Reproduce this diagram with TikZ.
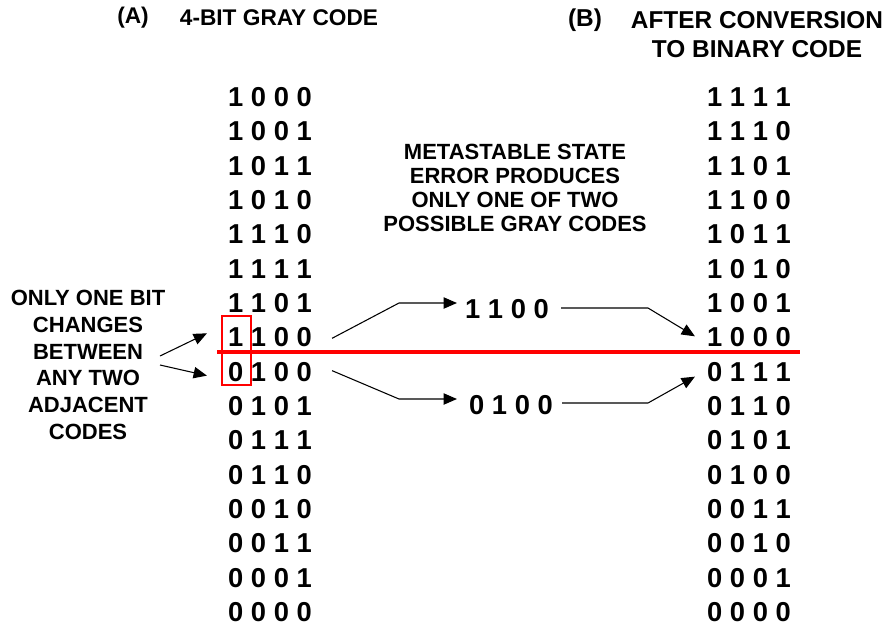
\documentclass[tikz,border=0pt]{standalone}
\usepackage{fontspec}
\setmainfont{Liberation Sans}
\usetikzlibrary{arrows.meta,calc}

\tikzset{
  code/.style={font=\fontsize{20.5}{24}\selectfont\bfseries, inner sep=0pt},
  note/.style={font=\fontsize{16.5}{20}\selectfont\bfseries, align=center, inner sep=0pt},
  link/.style={-{Triangle[length=10pt,width=8.5pt]}, line width=0.8pt},
}

\begin{document}
\begin{tikzpicture}[x=0.75pt, y=-0.75pt]
    \useasboundingbox (0,0) rectangle (893,629);
    % headings
    \node[note, font=\fontsize{17}{20}\selectfont\bfseries] (hA) at (133,18) {(A)};
    \node[note, font=\fontsize{17}{20}\selectfont\bfseries] (titleA) at (279,18) {4-BIT GRAY CODE};
    \node[note, font=\fontsize{18.3}{21.75}\selectfont\bfseries] (hB) at (585,20) {(B)};
    \node[note, font=\fontsize{18.3}{21.75}\selectfont\bfseries] (titleB) at (757,35) {AFTER CONVERSION\\TO BINARY CODE};
    % the two code columns
    \foreach \g [count=\i] in {1 0 0 0, 1 0 0 1, 1 0 1 1, 1 0 1 0, 1 1 1 0, 1 1 1 1, 1 1 0 1, 1 1 0 0,
                                0 1 0 0, 0 1 0 1, 0 1 1 1, 0 1 1 0, 0 0 1 0, 0 0 1 1, 0 0 0 1, 0 0 0 0}
        \node[code] (g\i) at (270,{97+34.33*(\i-1)}) {\g};
    \foreach \b [count=\i] in {1 1 1 1, 1 1 1 0, 1 1 0 1, 1 1 0 0, 1 0 1 1, 1 0 1 0, 1 0 0 1, 1 0 0 0,
                                0 1 1 1, 0 1 1 0, 0 1 0 1, 0 1 0 0, 0 0 1 1, 0 0 1 0, 0 0 0 1, 0 0 0 0}
        \node[code] (b\i) at (749,{97+34.33*(\i-1)}) {\b};
    % notes
    \node[note] (adjacent) at (88,365) {ONLY ONE BIT\\CHANGES\\BETWEEN\\ANY TWO\\ADJACENT\\CODES};
    \node[note, font=\fontsize{16.5}{18}\selectfont\bfseries] (meta) at (515,188) {METASTABLE STATE\\ERROR PRODUCES\\ONLY ONE OF TWO\\POSSIBLE GRAY CODES};
    \node[code] (mid1) at (507,309) {1 1 0 0};
    \node[code] (mid0) at (511,405) {0 1 0 0};
    % red marks
    \draw[red, line width=1pt] (222,316) rectangle (251,385);
    \draw[red, line width=3pt] (217,352) -- (800,352);
    % arrows
    \coordinate (t1) at (160,356);
    \coordinate (t0) at (160,365);
    \draw[link] (t1) -- ($(g8.west)+(-21,-4)$);
    \draw[link] (t0) -- ($(g9.west)+(-21,4)$);
    \draw[link] ($(g8.east)+(20,1)$) -- (399,303) -- ($(mid1.west)+(-8,-6)$);
    \draw[link] ($(mid1.east)+(12,-1)$) -- (648,308) -- ($(b8.west)+(-12,-1)$);
    \draw[link] ($(g9.east)+(20,-1)$) -- (399,399) -- ($(mid0.west)+(-12,-6)$);
    \draw[link] ($(mid0.east)+(9,-2)$) -- (648,403) -- ($(b9.west)+(-12,5)$);
\end{tikzpicture}
\end{document}
